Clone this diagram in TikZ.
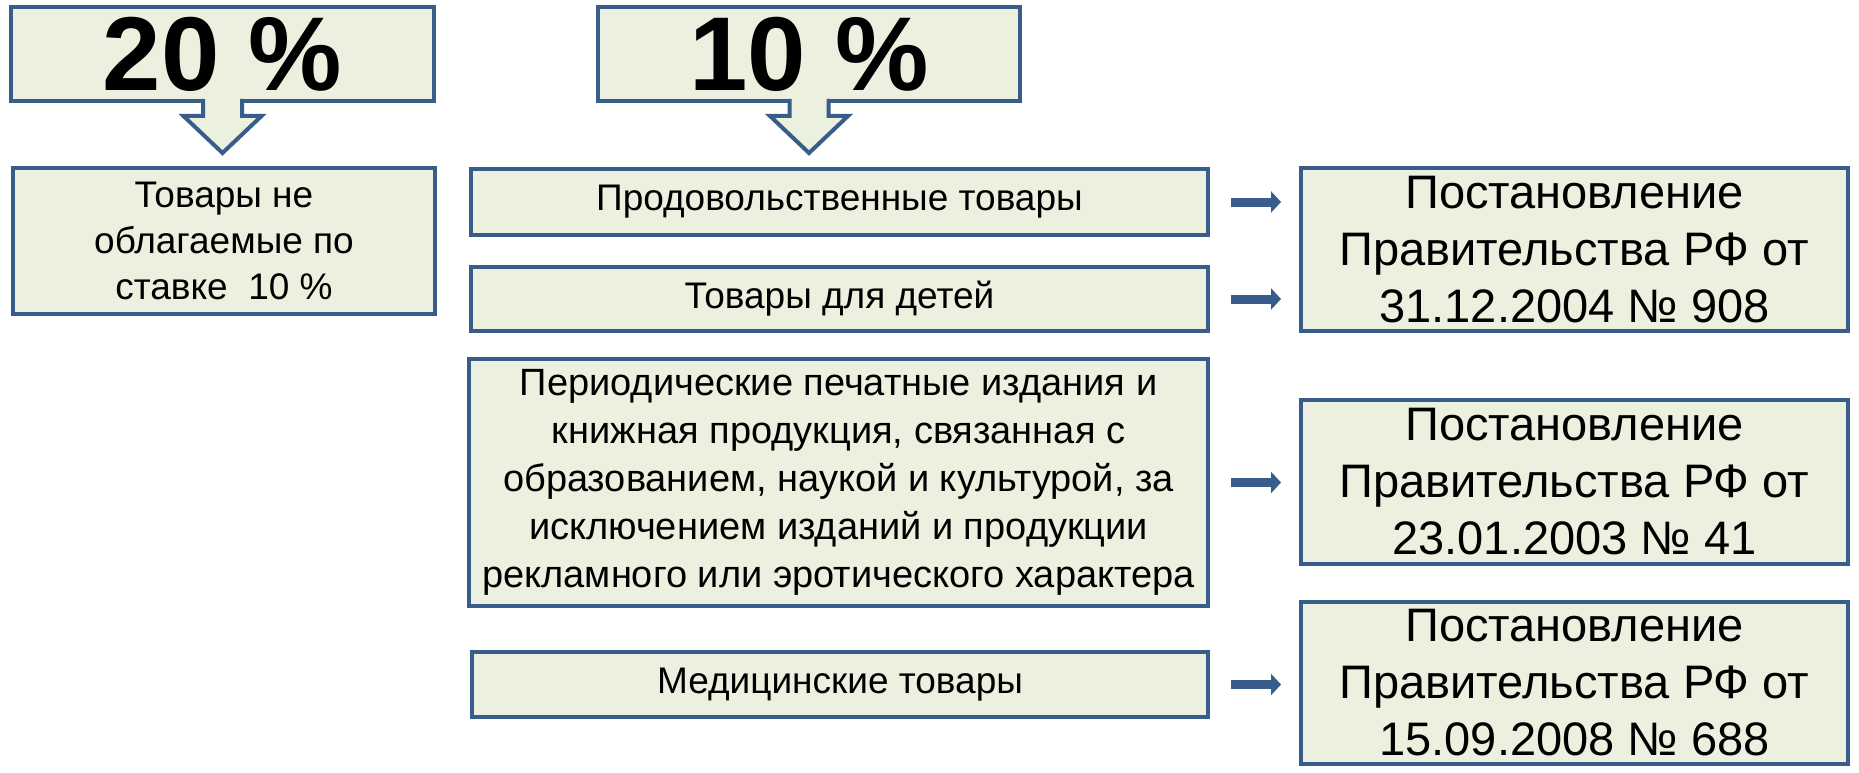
\documentclass[tikz,border=0pt]{standalone}
\usepackage{fontspec}
\setmainfont{Liberation Sans}
\usetikzlibrary{arrows.meta,calc}
\definecolor{boxfill}{HTML}{EBF1DE}
\definecolor{boxline}{HTML}{385D8A}
\begin{document}
\begin{tikzpicture}[x=1pt,y=-1pt,
  box/.style={draw=boxline, fill=boxfill, line width=4pt, inner sep=0pt, align=center, text=black},
  bigtxt/.style={font=\fontsize{105}{110}\selectfont\bfseries},
  midtxt/.style={font=\fontsize{37}{46}\selectfont},
  pertxt/.style={font=\fontsize{38}{48}\selectfont},
  lawtxt/.style={font=\fontsize{47}{57}\selectfont},
  conn/.style={draw=boxline, line width=9pt, -{Triangle[length=10pt,width=21pt]}, shorten <=21pt, shorten >=18pt},
  blockarrow/.style={draw=boxline, line width=4pt}
]
\fill[white] (0,0) rectangle (1859,773);
\useasboundingbox (0,0) rectangle (1859,773);

% top rate boxes
\node[box, bigtxt, minimum width=423pt, minimum height=94pt] (p20) at (222.5,54) {20 \%};
\node[box, bigtxt, minimum width=422pt, minimum height=94pt] (p10) at (809,54) {10 \%};

% left box
\node[box, midtxt, minimum width=422pt, minimum height=146pt] (left) at (224,241)
  {Товары не\\облагаемые по\\ставке~~10 \%};

% middle boxes
\node[box, midtxt, minimum width=737pt, minimum height=66pt] (prod) at (839.5,202) {Продовольственные товары};
\node[box, midtxt, minimum width=737pt, minimum height=64pt] (kids) at (839.5,299) {Товары для детей};
\node[box, pertxt, minimum width=739pt, minimum height=247pt] (period) at (838.5,482.5)
  {Периодические печатные издания и\\книжная продукция, связанная с\\образованием, наукой и культурой, за\\исключением изданий и продукции\\рекламного или эротического характера};
\node[box, midtxt, minimum width=736pt, minimum height=65pt] (med) at (840,684.5) {Медицинские товары};

% right boxes
\node[box, lawtxt, minimum width=547pt, minimum height=163pt] (r1) at (1574.5,249.5)
  {Постановление\\Правительства РФ от\\31.12.2004 № 908};
\node[box, lawtxt, minimum width=547pt, minimum height=164pt] (r2) at (1574.5,482)
  {Постановление\\Правительства РФ от\\23.01.2003 № 41};
\node[box, lawtxt, minimum width=547pt, minimum height=162pt] (r3) at (1574.5,683)
  {Постановление\\Правительства РФ от\\15.09.2008 № 688};

% block arrows under the rate boxes
\foreach \src in {p20,p10}{
  \begin{scope}[shift={(\src.south)}]
    \fill[boxfill] (-19.5,-5) -- (-19.5,13) -- (-39,13) -- (0,50) -- (39,13) -- (19.5,13) -- (19.5,-5) -- cycle;
    \draw[blockarrow] (-19.5,-4) -- (-19.5,13) -- (-39,13) -- (0,50) -- (39,13) -- (19.5,13) -- (19.5,-4);
  \end{scope}
}

% connectors
\draw[conn] (prod.east) -- (prod.east -| r1.west);
\draw[conn] (kids.east) -- (kids.east -| r1.west);
\draw[conn] (period.east) -- (period.east -| r2.west);
\draw[conn] (med.east) -- (med.east -| r3.west);
\end{tikzpicture}
\end{document}
